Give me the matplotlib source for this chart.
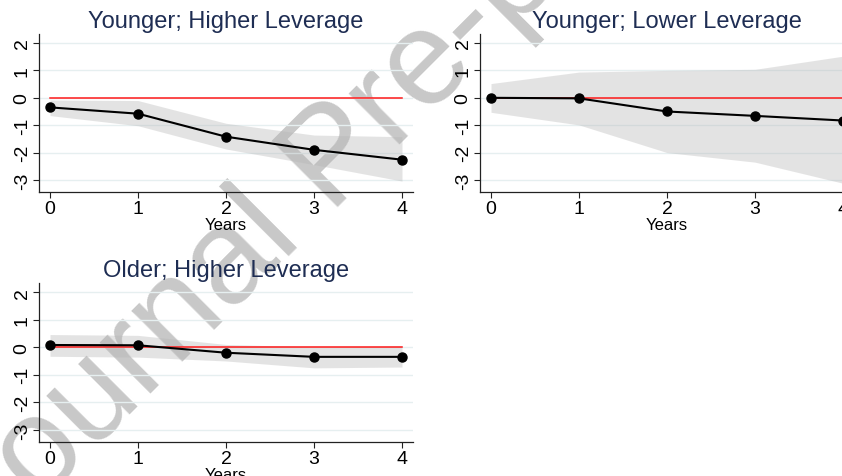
import numpy as np
import matplotlib
matplotlib.use("Agg")
from matplotlib import pyplot as plt

plt.rcParams['font.family'] = ['Liberation Sans', 'DejaVu Sans']

years = [0, 1, 2, 3, 4]
year_ticks = [0, 1, 2, 3, 4]
y_ticks = [-3, -2, -1, 0, 1, 2]

titles = ['Younger; Higher Leverage', 'Younger; Lower Leverage', 'Older; Higher Leverage']

young_high = [-0.35, -0.58, -1.42, -1.90, -2.26]
young_high_lo = [-0.65, -1.02, -1.87, -2.44, -3.04]
young_high_hi = [-0.08, -0.10, -0.93, -1.36, -1.42]

young_low = [0.00, -0.02, -0.50, -0.66, -0.83]
young_low_lo = [-0.53, -0.99, -2.00, -2.35, -3.12]
young_low_hi = [0.52, 0.94, 1.00, 1.04, 1.52]

old_high = [0.08, 0.07, -0.20, -0.35, -0.35]
old_high_lo = [-0.33, -0.36, -0.50, -0.75, -0.72]
old_high_hi = [0.46, 0.43, 0.10, 0.01, 0.04]

W, H = 842, 477
TITLE_COLOR = '#1e2d53'
GRID_COLOR = '#e6eff0'


def _px_axes(fig, left, top, width, height):
    return fig.add_axes([left / W, (H - top - height) / H, width / W, height / H])


def _panel(ax, title, est, lo, hi):
    ax.set_facecolor('none')
    ax.fill_between(years, lo, hi, color='#b4b4b4', alpha=0.36, linewidth=0, zorder=2)
    ax.plot([years[0], years[-1]], [0, 0], color='#ff1a1a', linewidth=1.1, zorder=3)
    ax.plot(years, est, color='black', linewidth=1.5, marker='o', markersize=6.5, zorder=4)

    ax.set_xlim(-0.125, 4.125)
    ax.set_ylim(-3.44, 2.33)
    ax.set_xticks(year_ticks)
    ax.set_yticks(y_ticks)
    ax.set_yticklabels([str(t) for t in y_ticks], rotation=90, va='center')
    ax.grid(axis='y', color=GRID_COLOR, linewidth=1.0, zorder=1)
    ax.set_axisbelow(True)
    for side in ['top', 'right']:
        ax.spines[side].set_visible(False)
    for side in ['left', 'bottom']:
        ax.spines[side].set_linewidth(0.9)
        ax.spines[side].set_color('#222222')
    ax.tick_params(direction='out', length=4, width=0.8, labelsize=14, color='#222222', pad=2)
    ax.set_xlabel('Years', fontsize=12, labelpad=0)
    ax.set_title(title, fontsize=17, color=TITLE_COLOR, pad=5)


fig = plt.figure(figsize=(W / 100, H / 100), dpi=100)
fig.patch.set_facecolor('white')

ax1 = _px_axes(fig, 39, 35, 374, 158)
ax2 = _px_axes(fig, 480, 35, 374, 158)
ax3 = _px_axes(fig, 39, 284, 374, 159)

_panel(ax1, titles[0], young_high, young_high_lo, young_high_hi)
_panel(ax2, titles[1], young_low, young_low_lo, young_low_hi)
_panel(ax3, titles[2], old_high, old_high_lo, old_high_hi)

# watermark of the pre-proof PDF, anchored at the start of its baseline
fig.text(-9 / W, 1 - 553 / H, 'Journal Pre-proof', fontsize=97,
         color='#c8c8c8', rotation=45, ha='left', va='baseline',
         rotation_mode='anchor', zorder=-1)

fig.savefig('out.png', dpi=100)
